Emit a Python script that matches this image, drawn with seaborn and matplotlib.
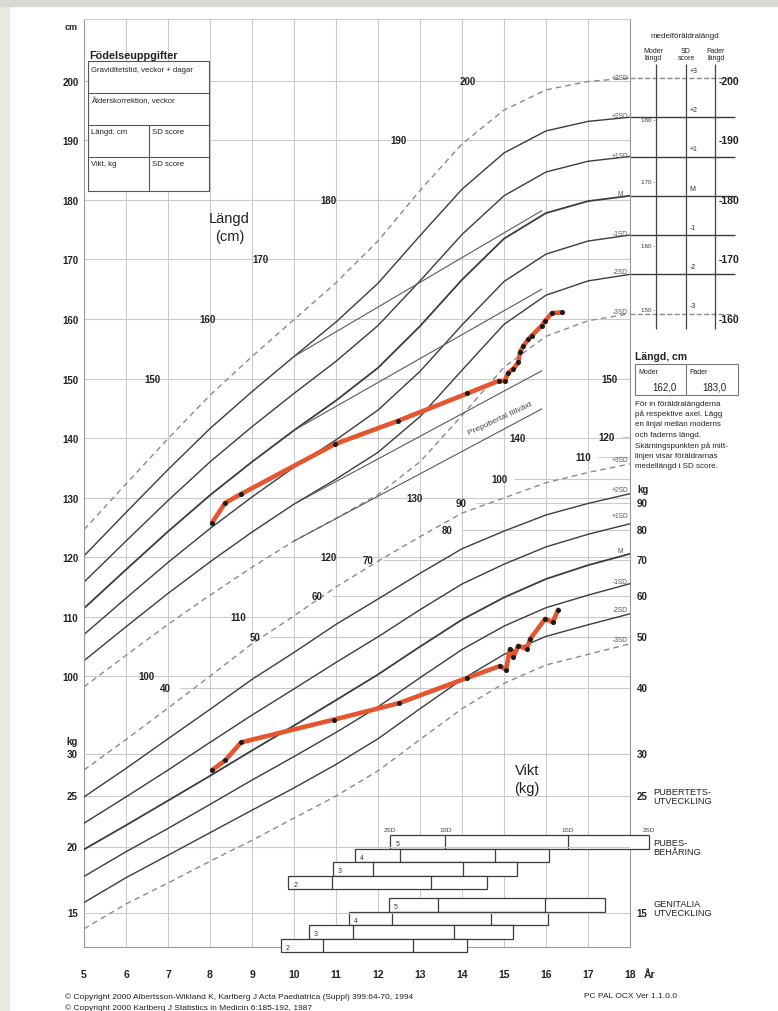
import numpy as np
import pandas as pd
import seaborn as sns
import matplotlib.pyplot as plt
import matplotlib.transforms as mtransforms
from matplotlib.patches import Rectangle

# ages where the reference curves are read
ages = [5, 6, 7, 8, 9, 10, 11, 12, 13, 14, 15, 16, 17, 18]

# height reference (cm), +3SD ... -3SD
height_p3 = [124.6, 132.3, 139.9, 147.2, 153.7, 159.9, 166.1, 173.1, 181.6, 189.4, 195.1, 198.5, 199.9, 200.5]
height_p2 = [120.2, 127.5, 134.7, 141.6, 147.8, 153.7, 159.5, 166.0, 174.0, 181.8, 187.9, 191.6, 193.2, 193.9]
height_p1 = [115.8, 122.7, 129.5, 136.0, 141.9, 147.5, 152.9, 158.9, 166.4, 174.2, 180.7, 184.7, 186.5, 187.3]
height_m = [111.4, 117.9, 124.3, 130.4, 136.0, 141.3, 146.3, 151.8, 158.8, 166.6, 173.5, 177.8, 179.8, 180.7]
height_m1 = [107.0, 113.1, 119.1, 124.8, 130.1, 135.1, 139.7, 144.7, 151.2, 159.0, 166.3, 170.9, 173.1, 174.1]
height_m2 = [102.6, 108.3, 113.9, 119.2, 124.2, 128.9, 133.1, 137.6, 143.6, 151.4, 159.1, 164.0, 166.4, 167.5]
height_m3 = [98.2, 103.5, 108.7, 113.6, 118.3, 122.7, 126.5, 130.5, 136.0, 143.8, 151.9, 157.1, 159.7, 160.9]

# weight reference (kg), +3SD ... -3SD
weight_p3 = [28.0, 32.0, 36.7, 42.2, 48.6, 54.9, 62.3, 69.7, 77.6, 86.0, 91.9, 98.2, 102.7, 106.6]
weight_p2 = [24.9, 28.2, 32.1, 36.5, 41.6, 46.8, 52.9, 59.1, 66.1, 73.6, 79.5, 85.3, 89.7, 93.6]
weight_p1 = [22.2, 24.9, 28.0, 31.6, 35.6, 39.9, 44.8, 50.1, 56.4, 63.1, 68.8, 74.2, 78.4, 82.1]
weight_m = [19.8, 22.0, 24.5, 27.3, 30.5, 34.0, 38.0, 42.5, 48.0, 54.0, 59.5, 64.5, 68.5, 72.0]
weight_m1 = [17.6, 19.6, 21.7, 24.1, 26.8, 29.7, 33.0, 36.9, 41.9, 47.4, 52.5, 56.9, 60.1, 63.2]
weight_m2 = [15.7, 17.5, 19.3, 21.3, 23.5, 25.9, 28.7, 32.1, 36.6, 41.6, 46.4, 50.2, 52.8, 55.4]
weight_m3 = [14.0, 15.6, 17.1, 18.8, 20.6, 22.7, 25.0, 27.9, 32.0, 36.6, 40.9, 44.3, 46.4, 48.6]

sd_labels = ["+3SD", "+2SD", "+1SD", "M", "-1SD", "-2SD", "-3SD"]
sd_short = ["+3", "+2", "+1", "M", "-1", "-2", "-3"]

# prepubertal growth lines
prepub_age = [10.0, 15.9]
prepub_p2 = [153.7, 178.2]
prepub_m = [141.3, 165.0]
prepub_m2 = [128.9, 151.3]
prepub_m3 = [122.7, 144.9]

# the patient
meas_age_h = [8.05, 8.36, 8.74, 10.98, 12.48, 14.13, 14.87, 15.02, 15.10, 15.22, 15.34, 15.38,
              15.46, 15.58, 15.66, 15.90, 15.98, 16.14, 16.38]
meas_height = [125.8, 129.1, 130.6, 139.0, 142.9, 147.5, 149.6, 149.6, 151.0, 151.6, 152.7, 154.4,
               155.5, 156.6, 157.2, 158.9, 159.7, 161.0, 161.1]
meas_age_w = [8.05, 8.36, 8.74, 10.95, 12.50, 14.13, 14.90, 15.05, 15.14, 15.22, 15.34, 15.54,
              15.62, 15.98, 16.16, 16.29]
meas_weight = [28.0, 29.2, 31.6, 34.9, 37.5, 41.9, 44.1, 43.4, 47.5, 45.8, 48.2, 47.5,
               49.6, 54.2, 53.4, 56.4]

# puberty stages (age at -2SD, -1SD, +1SD, +2SD), stages 5,4,3,2
stages = ["5", "4", "3", "2"]
pubes_lo2 = [12.29, 11.45, 10.93, 9.86]
pubes_lo1 = [13.60, 12.52, 11.88, 10.90]
pubes_hi1 = [16.52, 14.79, 14.02, 13.26]
pubes_hi2 = [18.45, 16.07, 15.31, 14.60]
genit_lo2 = [12.26, 11.31, 10.36, 9.69]
genit_lo1 = [13.43, 12.33, 11.40, 10.69]
genit_hi1 = [15.98, 14.69, 13.81, 12.83]
genit_hi2 = [17.40, 16.05, 15.21, 14.12]

# scale labels printed inside the grid
inner_h_vals = [150, 160, 170, 180, 190, 200, 100, 110, 120, 130, 140, 150]
inner_h_ages = [6.64, 7.95, 9.19, 10.81, 12.48, 14.14, 6.48, 8.67, 10.81, 12.88, 15.31, 17.52]
inner_w_vals = [40, 50, 60, 70, 80, 90, 100, 110, 120]
inner_w_ages = [6.93, 9.07, 10.55, 11.76, 13.64, 13.98, 14.88, 16.88, 17.45]

mother_ticks = ["180", "170", "160", "150"]
father_ticks = [200, 190, 180, 170, 160]

sns.set_theme(style="white")
plt.rcParams['font.family'] = ['Liberation Sans', 'DejaVu Sans']

W, H = 778, 1012
L, R, T, B = 84, 630, 20, 948
fig = plt.figure(figsize=(W / 100, H / 100), dpi=100)
fig.patch.set_facecolor('white')


def ptext(x, y, s, **kw):
    kw.setdefault('fontsize', 5)
    kw.setdefault('color', '#222222')
    fig.text(x / W, 1 - y / H, s, **kw)


# scanned page edges
fig.add_artist(Rectangle((0, 0), 9 / W, 1, transform=fig.transFigure, color='#ebe8de', zorder=-1))
fig.add_artist(Rectangle((0, 1 - 7 / H), 1, 7 / H, transform=fig.transFigure, color='#d9d8d2', zorder=-1))

ax = fig.add_axes([L / W, 1 - B / H, (R - L) / W, (B - T) / H])
ax.set_xlim(5, 18)
ax.set_ylim(54.5, 210.4)
ax.set_facecolor('none')
axw = ax.twinx()
axw.set_yscale('log')
axw.set_ylim(12.93, 744)
axw.yaxis.set_major_locator(plt.NullLocator())
axw.yaxis.set_minor_locator(plt.NullLocator())
for sp in axw.spines.values():
    sp.set_visible(False)
for name, sp in ax.spines.items():
    sp.set_color('#9a9a9a')
    sp.set_linewidth(0.8)
ax.spines['top'].set_color('#cccccc')

grid_c = '#cbcbcb'
ax.set_xticks(range(5, 19))
ax.set_xticklabels([str(a) for a in range(5, 19)], fontsize=7.5, fontweight='bold', color='#222222')
ax.set_yticks(range(100, 201, 10))
ax.set_yticklabels([str(v) for v in range(100, 201, 10)], fontsize=7, fontweight='bold', color='#222222')
ax.tick_params(axis='x', length=0, pad=16)
ax.tick_params(axis='y', length=0, pad=4)
ax.grid(True, color=grid_c, lw=0.8)
ptext(644, 975, "År", fontsize=7.5, fontweight='bold', va='center')
ptext(78, 27, "cm", fontsize=6.5, fontweight='bold', ha='right', va='center')

# weight grid and labels
for v in [15, 20, 25, 30]:
    axw.axhline(v, color=grid_c, lw=0.8, zorder=0)
for v, a in zip(inner_w_vals, inner_w_ages):
    axw.hlines(v, a + 0.35, 18, color=grid_c, lw=0.8, zorder=0)
    axw.text(a, v, str(v), fontsize=7, fontweight='bold', ha='center', va='center', color='#222222')
for v, a in zip(inner_h_vals, inner_h_ages):
    ax.text(a, v, str(v), fontsize=7, fontweight='bold', ha='center', va='center', color='#222222')

wtrans = mtransforms.blended_transform_factory(axw.transAxes, axw.transData)
for v in [30, 25, 20, 15]:
    axw.text(-0.011, v, str(v), transform=wtrans, fontsize=7, fontweight='bold', ha='right', va='center', color='#222222')
for v in [90, 80, 70, 60, 50, 40, 30, 25, 15]:
    axw.text(1.012, v, str(v), transform=wtrans, fontsize=7, fontweight='bold', ha='left', va='center', color='#222222')
ptext(78, 742, "kg", fontsize=7, fontweight='bold', ha='right', va='center')
ptext(637, 490, "kg", fontsize=7, fontweight='bold', ha='left', va='center')

# reference curves
h_curves = [height_p3, height_p2, height_p1, height_m, height_m1, height_m2, height_m3]
w_curves = [weight_p3, weight_p2, weight_p1, weight_m, weight_m1, weight_m2, weight_m3]
for i, (hc, wc) in enumerate(zip(h_curves, w_curves)):
    dashed = i in (0, 6)
    col = '#8a8a8a' if dashed else '#3c3c3c'
    ls = (0, (4, 3)) if dashed else '-'
    lw = 1.3 if i == 3 else 1.0
    sns.lineplot(x=ages, y=hc, ax=ax, color=col, lw=lw, ls=ls, legend=False, zorder=2)
    sns.lineplot(x=ages, y=wc, ax=axw, color=col, lw=lw, ls=ls, legend=False, zorder=2)
    # SD lines in the parental panel
    ax.hlines(hc[-1], 18, 20.5, color=col, lw=1.0, linestyles='--' if dashed else '-', clip_on=False)

for pp in [prepub_p2, prepub_m, prepub_m2, prepub_m3]:
    sns.lineplot(x=prepub_age, y=pp, ax=ax, color='#5a5a5a', lw=0.8, legend=False, zorder=2)
ax.text(14.9, 143.4, "Prepubertal tillväxt", fontsize=6, rotation=25, ha='center', va='center', color='#444444')

# curve end labels
h_lab_y = [79, 117, 156, 194, 234, 272, 312]
w_lab_y = [461, 491, 516, 552, 582, 611, 640]
for s, y1, y2 in zip(sd_labels, h_lab_y, w_lab_y):
    ptext(620, y1, s, fontsize=4.8, ha='center', va='center', color='#555555')
    ptext(620, y2, s, fontsize=4.8, ha='center', va='center', color='#555555')

# patient
sns.lineplot(x=meas_age_h, y=meas_height, ax=ax, color='#e5552f', lw=3.3, sort=False,
             estimator=None, legend=False, zorder=5)
sns.scatterplot(x=meas_age_h, y=meas_height, ax=ax, color='#1a1a1a', s=13, linewidth=0, zorder=6)
sns.lineplot(x=meas_age_w, y=meas_weight, ax=axw, color='#e5552f', lw=3.3, sort=False,
             estimator=None, legend=False, zorder=5)
sns.scatterplot(x=meas_age_w, y=meas_weight, ax=axw, color='#1a1a1a', s=13, linewidth=0, zorder=6)
ax.set_xlabel('')
ax.set_ylabel('')
axw.set_ylabel('')

ptext(229, 219, "Längd", fontsize=10.5, ha='center', va='center')
ptext(230, 237, "(cm)", fontsize=10.5, ha='center', va='center')
ptext(527, 771, "Vikt", fontsize=10.5, ha='center', va='center')
ptext(527, 789, "(kg)", fontsize=10.5, ha='center', va='center')

# birth data box
ptext(89, 56, "Födelseuppgifter", fontsize=7.8, fontweight='bold', va='center')
fig.add_artist(Rectangle((88 / W, 1 - 192 / H), 121 / W, 130 / H, transform=fig.transFigure,
                         facecolor='white', edgecolor='#555555', lw=0.8, zorder=3))
for yy in [94, 126, 158]:
    fig.add_artist(plt.Line2D([88 / W, 209 / W], [1 - yy / H] * 2, transform=fig.transFigure,
                              color='#555555', lw=0.8, zorder=4))
fig.add_artist(plt.Line2D([149 / W] * 2, [1 - 126 / H, 1 - 192 / H], transform=fig.transFigure,
                          color='#555555', lw=0.8, zorder=4))
for x, y, s in [(91, 70, "Graviditetstid, veckor + dagar"), (91, 101, "Ålderskorrektion, veckor"),
                (91, 133, "Längd, cm"), (152, 133, "SD score"), (91, 165, "Vikt, kg"), (152, 165, "SD score")]:
    ptext(x, y, s, fontsize=5.6, va='center', zorder=5)

# parental height panel
panel_x = [18.62, 19.33, 20.02]
ax.vlines(panel_x, 158.3, 202.9, color='#444444', lw=0.9, clip_on=False)
ptext(685, 37, "medelföräldralängd", fontsize=5.8, ha='center', va='center')
ptext(653, 55, "Moder\nlängd", fontsize=5, ha='center', va='center', linespacing=0.9)
ptext(686, 55, "SD\nscore", fontsize=5, ha='center', va='center', linespacing=0.9)
ptext(716, 55, "Fader\nlängd", fontsize=5, ha='center', va='center', linespacing=0.9)
for s, hc in zip(sd_short, h_curves):
    ax.text(19.42, hc[-1] + 1.3, s, fontsize=5, ha='left', va='center', color='#333333', clip_on=False)
for s, y in zip(mother_ticks, [120, 183, 246, 311]):
    ptext(655, y, s + " -", fontsize=4.5, ha='right', va='center', color='#333333')
for v in father_ticks:
    ax.text(20.12, v, "-" + str(v), fontsize=7.5, fontweight='bold', ha='left', va='center', color='#222222',
            clip_on=False)

ptext(635, 357, "Längd, cm", fontsize=7.5, fontweight='bold', va='center')
fig.add_artist(Rectangle((635 / W, 1 - 396 / H), 103 / W, 31 / H, transform=fig.transFigure,
                         facecolor='white', edgecolor='#777777', lw=0.8, zorder=3))
fig.add_artist(plt.Line2D([686 / W] * 2, [1 - 365 / H, 1 - 396 / H], transform=fig.transFigure,
                          color='#777777', lw=0.8, zorder=4))
ptext(638, 373, "Moder", fontsize=5, va='center', zorder=5)
ptext(689, 373, "Fader", fontsize=5, va='center', zorder=5)
ptext(664, 387, "162,0", fontsize=7, ha='center', va='center', zorder=5)
ptext(714, 387, "183,0", fontsize=7, ha='center', va='center', zorder=5)
para = ["För in föräldralängderna", "på respektive axel. Lägg", "en linjal mellan moderns",
        "och faderns längd.", "Skärningspunkten på mitt-", "linjen visar föräldrarnas",
        "medellängd i SD score."]
for k, line in enumerate(para):
    ptext(635, 404 + k * 10.5, line, fontsize=5.8, va='center')

# puberty development
ptext(653, 797, "PUBERTETS-\nUTVECKLING", fontsize=6.6, va='center', linespacing=1.0)
ptext(653, 848, "PUBES-\nBEHÅRING", fontsize=6.6, va='center', linespacing=1.0)
ptext(653, 909, "GENITALIA\nUTVECKLING", fontsize=6.6, va='center', linespacing=1.0)

btrans = mtransforms.blended_transform_factory(ax.transData, ax.transAxes)
row_h = 13.5


def frac(ypx):
    return (B - ypx) / (B - T)


def draw_rows(tops, lo2, lo1, hi1, hi2):
    for top, st, a, b, c, d in zip(tops, stages, lo2, lo1, hi1, hi2):
        y0, y1 = frac(top + row_h), frac(top)
        ax.add_patch(Rectangle((a, y0), d - a, y1 - y0, transform=btrans, facecolor='white',
                               edgecolor='#3c3c3c', lw=0.9, clip_on=False, zorder=7))
        for xd in (b, c):
            ax.plot([xd, xd], [y0, y1], transform=btrans, color='#3c3c3c', lw=0.9, clip_on=False, zorder=8)
        ax.text(a + 0.12, (y0 + y1) / 2 - 0.002, st, transform=btrans, fontsize=5, va='center',
                color='#333333', zorder=8)


draw_rows([836, 849.5, 863, 876.5], pubes_lo2, pubes_lo1, pubes_hi1, pubes_hi2)
draw_rows([899, 912.5, 926, 939.5], genit_lo2, genit_lo1, genit_hi1, genit_hi2)
for a, s in zip([pubes_lo2[0], pubes_lo1[0], pubes_hi1[0], pubes_hi2[0]], ["2SD", "1SD", "1SD", "2SD"]):
    ax.text(a, frac(830), s, transform=btrans, fontsize=4.6, ha='center', va='center', color='#444444',
            clip_on=False)

ptext(65, 997, "© Copyright 2000 Albertsson-Wikland K, Karlberg J Acta Paediatrica (Suppl) 399:64-70, 1994",
      fontsize=6, va='center')
ptext(65, 1008, "© Copyright 2000 Karlberg J Statistics in Medicin 6:185-192, 1987", fontsize=6, va='center')
ptext(584, 997, "PC PAL OCX Ver 1.1.0.0", fontsize=6, va='center')

fig.savefig("out.png", dpi=100)
